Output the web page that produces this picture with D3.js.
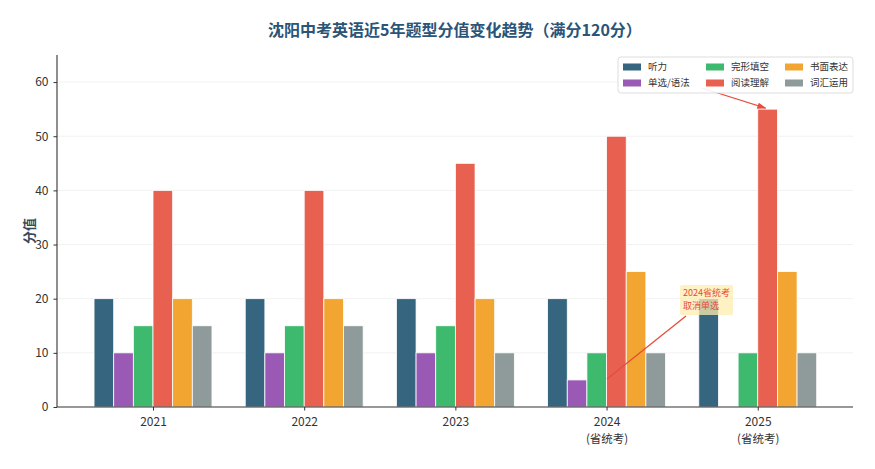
<!DOCTYPE html>
<html>
<head>
<meta charset="utf-8">
<script src="https://cdn.jsdelivr.net/npm/d3@7"></script>
<style>
	body { margin: 0; background: #fff; }
	text { font-family: "Noto Sans CJK SC", "DejaVu Sans", sans-serif; }
</style>
</head>
<body>
<svg id="chart"></svg>
<script>
const years = ['2021', '2022', '2023', '2024', '2025'];
const yearNotes = ['', '', '', '(省统考)', '(省统考)'];
const seriesNames = ['听力', '单选/语法', '完形填空', '阅读理解', '书面表达', '词汇运用'];
const seriesColors = ['#35657f', '#9b59b6', '#3dba6e', '#e8604f', '#f2a531', '#8f9a9a'];
const listening = [20, 20, 20, 20, 20];
const grammar = [10, 10, 10, 5, 0];
const cloze = [15, 15, 15, 10, 10];
const reading = [40, 40, 45, 50, 55];
const writing = [20, 20, 20, 25, 25];
const vocab = [15, 15, 10, 10, 10];
const yTicks = [0, 10, 20, 30, 40, 50, 60];

function makeChart() {
	let w = 875;
	let h = 469;
	let left = 57, right = 853, top = 55, bottom = 407;
	let series = [listening, grammar, cloze, reading, writing, vocab];
	let barW = 0.13;

	let chart = d3.select('#chart')
		.attr('width', w)
		.attr('height', h);

	let x = d3.scaleLinear().domain([-0.635, 4.63]).range([left, right]);
	let y = d3.scaleLinear().domain([0, 65]).range([bottom, top]);

	// grid
	chart.selectAll('.grid')
		.data(yTicks.slice(1))
		.enter()
		.append('line')
		.attr('x1', left)
		.attr('x2', right)
		.attr('y1', d => y(d))
		.attr('y2', d => y(d))
		.style('stroke', '#eeeeee')
		.style('stroke-width', 0.8);

	// bars, centred on j + (i - 2.5) * barW
	series.forEach((vals, i) => {
		chart.selectAll('.bar' + i)
			.data(vals)
			.enter()
			.append('rect')
			.attr('x', (d, j) => x(j + (i - 3) * barW))
			.attr('width', x(barW) - x(0))
			.attr('y', d => y(d))
			.attr('height', d => y(0) - y(d))
			.style('fill', seriesColors[i])
			.style('stroke', d => d > 0 ? '#fff' : 'none')
			.style('stroke-width', 0.8);
	});

	// axes
	let yAxis = d3.axisLeft(y).tickValues(yTicks).tickSize(3.5).tickPadding(5);
	let gy = chart.append('g').attr('transform', `translate(${left},0)`).call(yAxis);
	let xAxis = d3.axisBottom(x).tickValues(d3.range(years.length)).tickFormat(d => years[d]).tickSize(3.5).tickPadding(6.5);
	let gx = chart.append('g').attr('transform', `translate(0,${bottom})`).call(xAxis);
	[gx, gy].forEach(g => {
		g.select('.domain').style('stroke', '#333').style('stroke-width', 1.1);
		g.selectAll('.tick line').style('stroke', '#333');
		g.selectAll('.tick text').style('font-size', '12px').style('fill', '#333');
	});
	gy.select('.domain').attr('d', `M-0,${bottom}V${top}`);
	gx.select('.domain').attr('d', `M${left},0H${right}`);

	gx.selectAll('.tick')
		.append('text')
		.attr('y', 27.5)
		.attr('dy', '0.71em')
		.style('font-size', '11.5px')
		.style('fill', '#333')
		.style('text-anchor', 'middle')
		.text(d => yearNotes[d]);

	// labels
	chart.append('text')
		.attr('x', 455)
		.attr('y', 36)
		.style('text-anchor', 'middle')
		.style('font-size', '16px')
		.style('font-weight', 'bold')
		.style('fill', '#2a5478')
		.text('沈阳中考英语近5年题型分值变化趋势（满分120分）');

	chart.append('text')
		.attr('transform', 'translate(34,231) rotate(-90)')
		.style('text-anchor', 'middle')
		.style('font-size', '13px')
		.style('font-weight', 'bold')
		.style('fill', '#34495e')
		.text('分值');

	// arrow defs
	chart.append('defs').append('marker')
		.attr('id', 'head')
		.attr('viewBox', '0 0 10 10')
		.attr('refX', 9).attr('refY', 5)
		.attr('markerWidth', 7).attr('markerHeight', 7)
		.attr('orient', 'auto')
		.append('path')
		.attr('d', 'M0,1.5L10,5L0,8.5Z')
		.style('fill', '#e74c3c');

	// annotation arrow to 2025 reading
	chart.append('line')
		.attr('x1', 702).attr('y1', 88)
		.attr('x2', x(4 + 0.5 * barW) - 2).attr('y2', y(reading[4]) - 1)
		.style('stroke', '#e74c3c')
		.style('stroke-width', 1.3)
		.attr('marker-end', 'url(#head)');

	// annotation 2024
	chart.append('line')
		.attr('x1', 607).attr('y1', 379)
		.attr('x2', 686).attr('y2', 316)
		.style('stroke', '#e74c3c')
		.style('stroke-width', 1.3);

	chart.append('rect')
		.attr('x', 680).attr('y', 285)
		.attr('width', 53).attr('height', 30)
		.attr('rx', 2)
		.style('fill', '#fdecb0')
		.style('opacity', 0.75);

	chart.append('text')
		.attr('x', 683)
		.attr('y', 296)
		.style('font-size', '9px')
		.style('fill', '#e74c3c')
		.selectAll('tspan')
		.data(['2024省统考', '取消单选'])
		.enter()
		.append('tspan')
		.attr('x', 683)
		.attr('dy', (d, i) => i ? 13 : 0)
		.text(d => d);

	// legend
	let lg = chart.append('g');
	lg.append('rect')
		.attr('x', 618).attr('y', 57)
		.attr('width', 235).attr('height', 36)
		.attr('rx', 3)
		.style('fill', '#fff')
		.style('fill-opacity', 0.9)
		.style('stroke', '#dddddd');
	let cols = [623, 706, 785];
	let items = lg.selectAll('.item')
		.data(seriesNames)
		.enter()
		.append('g')
		.attr('transform', (d, i) => `translate(${cols[Math.floor(i / 2)]},${67 + (i % 2) * 16})`);
	items.append('rect')
		.attr('x', 0).attr('y', -3.5)
		.attr('width', 18).attr('height', 7)
		.style('fill', (d, i) => seriesColors[i]);
	items.append('text')
		.attr('x', 25)
		.attr('y', 0)
		.attr('dy', '0.35em')
		.style('font-size', '9.5px')
		.style('fill', '#333')
		.text(d => d);
}

window.onload = function () {
	makeChart();
}
</script>
</body>
</html>
